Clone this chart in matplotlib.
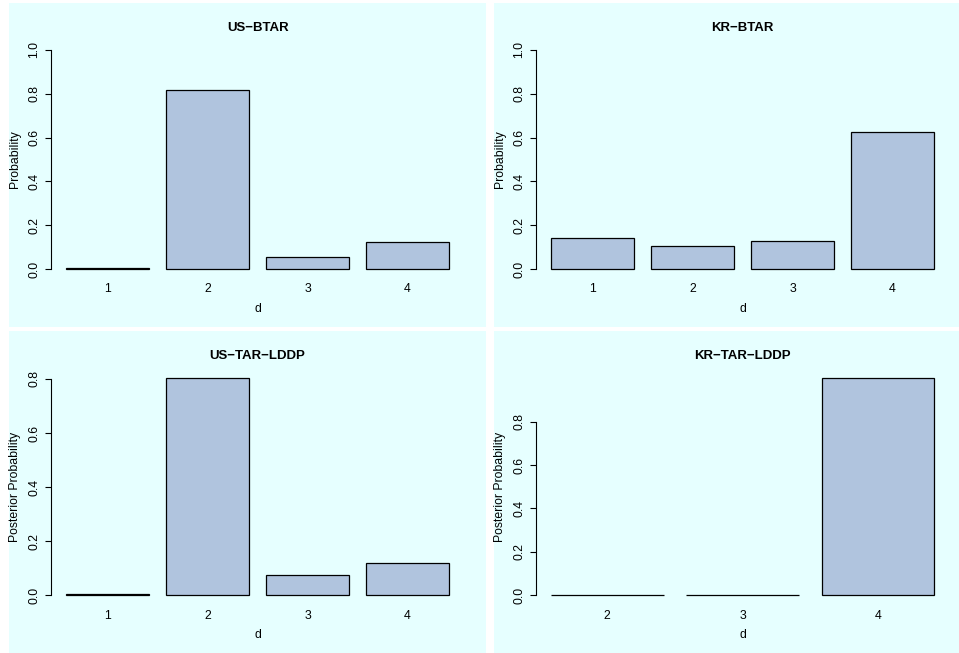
import numpy as np
import matplotlib
matplotlib.use('Agg')
import matplotlib.pyplot as plt
from matplotlib.patches import Rectangle

plt.rcParams['font.family'] = ['Liberation Sans', 'DejaVu Sans']

# values
us_btar_d = ['1', '2', '3', '4']
us_btar_p = [0.004, 0.816, 0.056, 0.124]

kr_btar_d = ['1', '2', '3', '4']
kr_btar_p = [0.143, 0.104, 0.129, 0.624]

us_lddp_d = ['1', '2', '3', '4']
us_lddp_p = [0.004, 0.802, 0.075, 0.119]

kr_lddp_d = ['2', '3', '4']
kr_lddp_p = [0.0005, 0.0005, 0.999]

btar_ticks = [0.0, 0.2, 0.4, 0.6, 0.8, 1.0]
lddp_ticks = [0.0, 0.2, 0.4, 0.6, 0.8]

W, H = 959, 653
BG = '#E6FFFF'
BAR = '#B0C4DE'
FS = 8.8


def px_rect(x0, y0, x1, y1):
	# pixel box (top-left origin) -> figure fraction
	return [x0 / W, 1 - y1 / H, (x1 - x0) / W, (y1 - y0) / H]


def barplot(ax, names, vals, title, ylab, ticks, ymax):
	n = len(vals)
	left = 0.2 + 1.2 * np.arange(n)
	ax.bar(left, vals, width=1.0, align='edge', color=BAR, edgecolor='black', linewidth=0.9)

	span = n * 1.2 - 0.2
	ax.set_xlim(0.2 - 0.04 * span, n * 1.2 + 0.04 * span)
	ax.set_ylim(-0.04 * ymax, ymax * 1.04)

	ax.set_xticks(left + 0.5)
	ax.set_xticklabels(names)
	ax.tick_params(axis='x', length=0, pad=4, labelsize=FS)

	ax.set_yticks(ticks)
	ax.set_yticklabels(['%.1f' % t for t in ticks])
	ax.tick_params(axis='y', length=4, width=0.8, pad=3.5, labelsize=FS, direction='out')
	plt.setp(ax.get_yticklabels(), rotation=90, va='center')

	for s in ['top', 'right', 'bottom']:
		ax.spines[s].set_visible(False)
	ax.spines['left'].set_bounds(ticks[0], ticks[-1])
	ax.spines['left'].set_linewidth(0.8)

	ax.patch.set_visible(False)
	ax.set_title(title, fontsize=9.5, fontweight='bold', pad=7.5)
	ax.set_ylabel(ylab, fontsize=FS, va='center')
	ax.yaxis.set_label_coords(-36.0 / 414, 0.5)
	ax.set_xlabel('d', fontsize=FS, va='center')
	ax.xaxis.set_label_coords(0.5, -31.0 / 236.6)


def main():
	fig = plt.figure(figsize=(W / 100.0, H / 100.0), dpi=100)
	fig.patch.set_facecolor('white')

	# panel backgrounds
	for (x0, y0, x1, y1) in [(9, 3, 486, 327), (494, 3, 959, 327),
							 (9, 331, 486, 653), (494, 331, 959, 653)]:
		r = px_rect(x0, y0, x1, y1)
		fig.patches.append(Rectangle((r[0], r[1]), r[2], r[3], transform=fig.transFigure,
									 facecolor=BG, edgecolor='none', zorder=-10))

	ax1 = fig.add_axes(px_rect(50.6, 41.2, 464.6, 277.8))
	barplot(ax1, us_btar_d, us_btar_p, 'US\u2212BTAR', 'Probability', btar_ticks, 1.0)

	ax2 = fig.add_axes(px_rect(535.6, 41.2, 949.6, 277.8))
	barplot(ax2, kr_btar_d, kr_btar_p, 'KR\u2212BTAR', 'Probability', btar_ticks, 1.0)

	ax3 = fig.add_axes(px_rect(50.6, 369.7, 464.6, 604))
	barplot(ax3, us_lddp_d, us_lddp_p, 'US\u2212TAR\u2212LDDP', 'Posterior Probability',
			lddp_ticks, max(us_lddp_p))

	ax4 = fig.add_axes(px_rect(535.6, 369.7, 949.6, 604))
	barplot(ax4, kr_lddp_d, kr_lddp_p, 'KR\u2212TAR\u2212LDDP', 'Posterior Probability',
			lddp_ticks, max(kr_lddp_p))

	fig.savefig('out.png', dpi=100, facecolor='white')


if __name__ == '__main__':
	main()
